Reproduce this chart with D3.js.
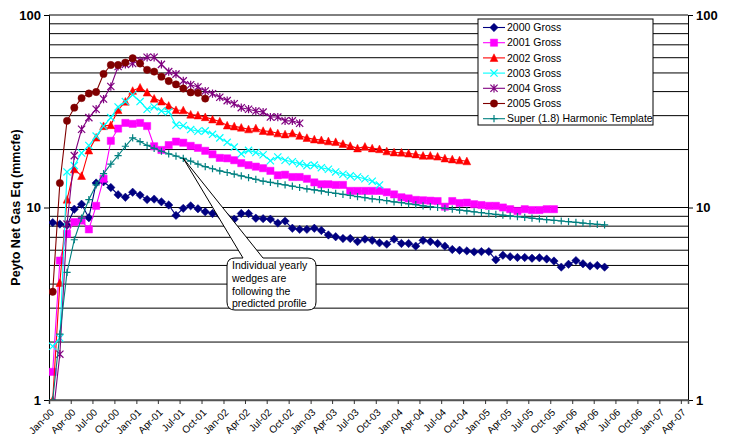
<!DOCTYPE html>
<html>
<head>
<meta charset="utf-8">
<script src="https://cdn.jsdelivr.net/npm/d3@7"></script>
<style>
  body { margin: 0; background: #fff; }
  text { font-family: "Liberation Sans", Arial, sans-serif; }
</style>
</head>
<body>
<div id="chart"></div>
<script>
// monthly values, index 0 = Jan-00
var gross2000 = [8.35, 8.2, 8.1, 9.8, 10.4, 8.85, 13.4, 13.6, 12.7, 11.65, 11.3, 12.0, 11.6, 11.0, 11.05, 10.7,
  10.3, 9.1, 9.9, 10.2, 9.85, 9.5, 9.3, 9.15, 8.9, 8.7, 9.3, 9.3, 8.8, 8.75, 8.7, 8.3, 8.5, 7.8, 7.7, 7.7,
  7.8, 7.6, 7.2, 7.05, 6.9, 6.9, 6.65, 6.85, 6.75, 6.55, 6.45, 6.85, 6.5, 6.5, 6.3, 6.75, 6.65, 6.5, 6.3,
  6.05, 6.0, 5.95, 5.88, 5.9, 5.9, 5.35, 5.65, 5.55, 5.5, 5.5, 5.45, 5.48, 5.4, 5.27, 4.9, 5.07, 5.3, 5.1,
  4.97, 5.0, 4.9];
var gross2001 = [1.4, 5.3, 7.3, 8.4, 8.55, 7.7, 10.2, 14.1, 22.2, 25.7, 27.5, 27.2, 27.5, 26.5, 20.8, 19.9,
  21.1, 22.0, 21.7, 20.9, 20.4, 19.7, 18.9, 18.1, 18.0, 17.6, 17.0, 16.6, 16.3, 16.0, 15.5, 14.7, 14.8,
  14.4, 14.4, 14.1, 13.5, 13.2, 13.2, 13.1, 13.1, 12.2, 12.2, 12.2, 12.2, 12.2, 12.0, 11.7, 11.3, 11.15,
  10.95, 10.9, 10.85, 10.8, 10.1, 10.8, 10.55, 10.6, 10.4, 10.3, 10.2, 10.2, 10.0, 9.8, 9.6, 9.8, 9.7,
  9.7, 9.8, 9.8];
var gross2002 = [1.0, 4.06, 11.0, 15.8, 14.6, 19.8, 23.1, 26.5, 26.8, 32.1, 35.5, 40.4, 42.0, 39.6, 36.8,
  35.6, 33.8, 32.1, 32.0, 30.4, 30.1, 29.5, 28.7, 28.0, 26.7, 26.4, 26.0, 25.5, 25.8, 25.0, 24.8, 24.3,
  24.0, 24.3, 23.6, 23.0, 22.6, 22.4, 22.1, 21.9, 21.4, 20.9, 20.3, 20.7, 20.3, 20.1, 19.6, 19.35, 19.3,
  19.1, 18.9, 18.6, 18.6, 18.4, 18.0, 17.8, 17.6, 17.4];
var gross2003 = [1.9, 2.1, 15.3, 16.5, 19.2, 21.0, 23.5, 26.5, 29.3, 33.3, 35.5, 38.5, 35.5, 32.4, 33.3,
  31.7, 31.4, 26.8, 26.6, 25.4, 24.9, 25.0, 24.0, 23.0, 21.8, 20.6, 19.0, 19.8, 19.3, 18.8, 17.5, 18.3,
  17.6, 17.3, 16.9, 16.5, 16.6, 16.1, 15.8, 15.3, 14.9, 14.6, 14.4, 14.1, 13.7, 13.1];
var gross2004 = [0.8, 1.73, 8.2, 18.6, 25.5, 29.3, 32.4, 36.6, 42.5, 54, 55.4, 56, 58, 60.3, 60.3, 55.4,
  50.8, 49.3, 45.5, 43.4, 42.3, 40.3, 39.0, 37.4, 35.9, 34.6, 33.0, 32.4, 31.7, 31.3, 29.5, 29.5, 28.2,
  28.2, 27.4];
var gross2005 = [3.65, 13.4, 28.2, 33.0, 37.0, 39.1, 39.8, 49.4, 55, 55, 56.6, 59.6, 56.0, 51.9, 50.8,
  47.8, 45.4, 43.6, 41.5, 39.6, 39.4, 36.8];
var template = [1.0, 2.2, 4.6, 6.8, 8.8, 11.0, 13.1, 15.0, 16.8, 18.6, 20.8, 23.0, 22.0, 21.0, 20.3, 19.6,
  19.0, 18.5, 18.0, 17.4, 16.8, 16.3, 15.9, 15.5, 15.2, 14.9, 14.6, 14.3, 14.0, 13.7, 13.5, 13.3, 13.1,
  12.9, 12.7, 12.5, 12.35, 12.2, 12.0, 11.85, 11.7, 11.55, 11.4, 11.25, 11.1, 11.0, 10.85, 10.7, 10.6,
  10.45, 10.35, 10.2, 10.1, 10.0, 9.9, 9.8, 9.7, 9.6, 9.5, 9.4, 9.3, 9.2, 9.12, 9.04, 8.96, 8.88, 8.8,
  8.72, 8.65, 8.58, 8.51, 8.44, 8.37, 8.3, 8.24, 8.18, 8.12];

var seriesNames = ["2000 Gross", "2001 Gross", "2002 Gross", "2003 Gross", "2004 Gross", "2005 Gross",
  "Super (1.8) Harmonic Template"];
var seriesColors = ["#000080", "#ff00ff", "#ff0000", "#00ffff", "#800080", "#800000", "#008080"];
var seriesMarkers = ["diamond", "square", "triangle", "x", "star", "circle", "plus"];
var seriesValues = [gross2000, gross2001, gross2002, gross2003, gross2004, gross2005, template];

var yTickLabels = [1, 10, 100];
var calloutLines = ["Individual yearly", "wedges are", "following the", "predicted profile"];

var svgWidth = 731;
var svgHeight = 441;
var margin = { top: 15, right: 43, bottom: 41, left: 49 };
var width = svgWidth - margin.left - margin.right;
var height = svgHeight - margin.top - margin.bottom;

var svg = d3.select("#chart")
  .append("svg")
  .attr("width", svgWidth)
  .attr("height", svgHeight);

var chartGroup = svg.append("g")
  .attr("transform", `translate(${margin.left}, ${margin.top})`);

var x = d3.scaleTime()
  .domain([new Date(2000, 0, 1), new Date(2007, 4, 1)])
  .range([0, width]);

var y = d3.scaleLog()
  .domain([1, 100])
  .range([height, 0]);

// points sit in the middle of their month
function xMid(i) {
  return (x(new Date(2000, i, 1)) + x(new Date(2000, i + 1, 1))) / 2;
}

// horizontal gridlines
chartGroup.append("g")
  .selectAll("line")
  .data(y.ticks())
  .enter()
  .append("line")
  .attr("x1", 0)
  .attr("x2", width)
  .attr("y1", d => y(d))
  .attr("y2", d => y(d))
  .attr("stroke", "#000")
  .attr("stroke-width", 1);

// left axis
var leftAxis = chartGroup.append("g")
  .call(d3.axisLeft(y).tickValues(yTickLabels).tickFormat(d3.format("d")).tickSize(5).tickPadding(3));
// right axis
var rightAxis = chartGroup.append("g")
  .attr("transform", `translate(${width}, 0)`)
  .call(d3.axisRight(y).tickValues(yTickLabels).tickFormat(d3.format("d")).tickSize(5).tickPadding(3));

[leftAxis, rightAxis].forEach(function(ax) {
  ax.select(".domain").attr("stroke", "#000");
  ax.selectAll("text")
    .style("font-size", "13px")
    .style("font-weight", "bold")
    .attr("fill", "#000");
});

// bottom axis
var bottomAxis = chartGroup.append("g")
  .attr("transform", `translate(0, ${height})`)
  .call(d3.axisBottom(x)
    .ticks(d3.timeMonth.every(3))
    .tickFormat(d3.timeFormat("%b-%y"))
    .tickSizeOuter(0)
    .tickSize(4));

bottomAxis.select(".domain").attr("stroke", "#555").attr("stroke-width", 1.5);
bottomAxis.selectAll(".tick line").attr("stroke", "#333");
bottomAxis.selectAll("text")
  .style("font-size", "10px")
  .attr("fill", "#000")
  .attr("text-anchor", "end")
  .attr("transform", "translate(-2, 6) rotate(-45)")
  .attr("dy", "0.7em")
  .attr("y", 3);

// y axis title
svg.append("text")
  .attr("transform", `translate(20, ${margin.top + height / 2}) rotate(-90)`)
  .attr("text-anchor", "middle")
  .style("font-size", "12.5px")
  .style("font-weight", "bold")
  .text("Peyto Net Gas Eq (mmcfe)");

// markers
function markerPath(type) {
  var s = 3.6;
  if (type === "diamond") return `M0,${-s - 0.6}L${s + 0.6},0L0,${s + 0.6}L${-s - 0.6},0Z`;
  if (type === "square") return `M${-s},${-s}h${2 * s}v${2 * s}h${-2 * s}Z`;
  if (type === "triangle") return `M0,${-s - 0.5}L${s + 0.3},${s}L${-s - 0.3},${s}Z`;
  if (type === "x") return `M${-s},${-s}L${s},${s}M${-s},${s}L${s},${-s}`;
  if (type === "star") return `M${-s},${-s}L${s},${s}M${-s},${s}L${s},${-s}M0,${-s - 0.5}V${s + 0.5}`;
  if (type === "plus") return `M${-s},0H${s}M0,${-s}V${s}`;
  return d3.symbol().type(d3.symbolCircle).size(42)();
}
function markerFilled(type) {
  return !(type === "x" || type === "star" || type === "plus");
}

svg.append("clipPath")
  .attr("id", "plotClip")
  .append("rect")
  .attr("x", 0)
  .attr("y", 0)
  .attr("width", width)
  .attr("height", height);

var lineGen = d3.line()
  .x((d, i) => xMid(i))
  .y(d => y(d));

var seriesGroup = chartGroup.append("g").attr("clip-path", "url(#plotClip)");

seriesValues.forEach(function(values, k) {
  var g = seriesGroup.append("g");
  g.append("path")
    .datum(values)
    .attr("d", lineGen)
    .attr("fill", "none")
    .attr("stroke", seriesColors[k])
    .attr("stroke-width", 1.1);
  var type = seriesMarkers[k];
  g.selectAll("path.mk")
    .data(values)
    .enter()
    .append("path")
    .attr("class", "mk")
    .attr("transform", (d, i) => `translate(${xMid(i)}, ${y(d)})`)
    .attr("d", markerPath(type))
    .attr("fill", markerFilled(type) ? seriesColors[k] : "none")
    .attr("stroke", seriesColors[k])
    .attr("stroke-width", markerFilled(type) ? 0.5 : 1.2);
});

// callout pointing at the template curve
var tipX = xMid(18);
var tipY = y(template[18]);
var bx0 = 227 - margin.left, bx1 = 316 - margin.left, by0 = 258 - margin.top, by1 = 310 - margin.top, r = 8;
var calloutPath = `M${bx0 + 16},${by0}L${tipX},${tipY}L${bx0 + 36},${by0}L${bx1 - r},${by0}` +
  `Q${bx1},${by0} ${bx1},${by0 + r}L${bx1},${by1 - r}Q${bx1},${by1} ${bx1 - r},${by1}` +
  `L${bx0 + r},${by1}Q${bx0},${by1} ${bx0},${by1 - r}L${bx0},${by0 + r}Q${bx0},${by0} ${bx0 + r},${by0}Z`;
chartGroup.append("path")
  .attr("d", calloutPath)
  .attr("fill", "#fff")
  .attr("stroke", "#000")
  .attr("stroke-width", 1);

chartGroup.append("g")
  .selectAll("text")
  .data(calloutLines)
  .enter()
  .append("text")
  .attr("x", bx0 + 5)
  .attr("y", (d, i) => by0 + 11 + i * 12.8)
  .style("font-size", "10.5px")
  .attr("fill", "#000")
  .text(d => d);

// legend
var legend = svg.append("g").attr("transform", "translate(478, 19)");
legend.append("rect")
  .attr("width", 175)
  .attr("height", 106)
  .attr("fill", "#fff")
  .attr("stroke", "#000");

var legendItems = legend.selectAll("g.item")
  .data(seriesNames)
  .enter()
  .append("g")
  .attr("class", "item")
  .attr("transform", (d, i) => `translate(0, ${8.5 + i * 15.2})`);

legendItems.append("line")
  .attr("x1", 5)
  .attr("x2", 27)
  .attr("stroke", (d, i) => seriesColors[i])
  .attr("stroke-width", 1.1);
legendItems.append("path")
  .attr("transform", "translate(16, 0)")
  .attr("d", (d, i) => markerPath(seriesMarkers[i]))
  .attr("fill", (d, i) => markerFilled(seriesMarkers[i]) ? seriesColors[i] : "none")
  .attr("stroke", (d, i) => seriesColors[i])
  .attr("stroke-width", (d, i) => markerFilled(seriesMarkers[i]) ? 0.5 : 1.2);
legendItems.append("text")
  .attr("x", 29)
  .attr("dy", "0.35em")
  .style("font-size", "10.5px")
  .attr("fill", "#000")
  .text(d => d);
</script>
</body>
</html>
